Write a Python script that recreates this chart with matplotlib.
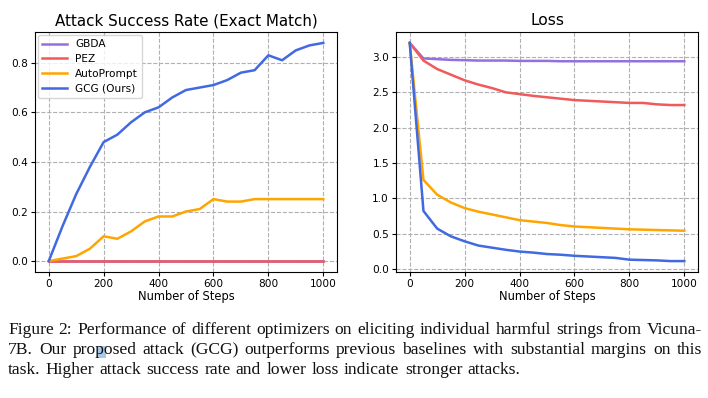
import matplotlib
matplotlib.use("Agg")
import matplotlib.pyplot as plt
import matplotlib.patches as mpatches

steps = list(range(0, 1001, 50))
methods = ["GBDA", "PEZ", "AutoPrompt", "GCG (Ours)"]

asr_gbda = [0.0] * 21
asr_pez = [0.0] * 21
asr_autoprompt = [0.00, 0.01, 0.02, 0.05, 0.10, 0.09, 0.12, 0.16, 0.18, 0.18, 0.20,
                  0.21, 0.25, 0.24, 0.24, 0.25, 0.25, 0.25, 0.25, 0.25, 0.25]
asr_gcg = [0.00, 0.14, 0.27, 0.38, 0.48, 0.51, 0.56, 0.60, 0.62, 0.66, 0.69,
           0.70, 0.71, 0.73, 0.76, 0.77, 0.83, 0.81, 0.85, 0.87, 0.88]

loss_gbda = [3.20, 2.98, 2.97, 2.96, 2.955, 2.95, 2.95, 2.95, 2.945, 2.945, 2.945,
             2.94, 2.94, 2.94, 2.94, 2.94, 2.94, 2.94, 2.94, 2.94, 2.94]
loss_pez = [3.20, 2.95, 2.83, 2.75, 2.67, 2.61, 2.56, 2.50, 2.475, 2.45, 2.43,
            2.41, 2.39, 2.38, 2.37, 2.36, 2.35, 2.35, 2.33, 2.32, 2.32]
loss_autoprompt = [3.20, 1.26, 1.05, 0.94, 0.86, 0.81, 0.77, 0.73, 0.69, 0.67, 0.65,
                   0.62, 0.60, 0.59, 0.58, 0.57, 0.56, 0.555, 0.55, 0.545, 0.54]
loss_gcg = [3.20, 0.82, 0.57, 0.46, 0.39, 0.33, 0.30, 0.27, 0.245, 0.23, 0.21,
            0.20, 0.185, 0.175, 0.165, 0.155, 0.13, 0.125, 0.12, 0.11, 0.11]

colors = ["#9370DB", "#F05A5A", "#FFA500", "#4169E1"]

caption_lines = [
    "Figure 2: Performance of different optimizers on eliciting individual harmful strings from Vicuna-",
    "7B. Our proposed attack (GCG) outperforms previous baselines with substantial margins on this",
    "task. Higher attack success rate and lower loss indicate stronger attacks.",
]

W, H = 708, 398
fig = plt.figure(figsize=(W/100, H/100), dpi=100, facecolor="white")
ax1 = fig.add_axes((35/W, 1 - 272/H, 302/W, 240/H))
ax2 = fig.add_axes((396/W, 1 - 272/H, 302/W, 240/H))

for vals, c, lab in zip([asr_gbda, asr_pez, asr_autoprompt, asr_gcg], colors, methods):
    ax1.plot(steps, vals, color=c, lw=1.8, label=lab)
for vals, c, lab in zip([loss_gbda, loss_pez, loss_autoprompt, loss_gcg], colors, methods):
    ax2.plot(steps, vals, color=c, lw=1.8, label=lab)

ax1.set_title("Attack Success Rate (Exact Match)", fontsize=10.9, pad=5)
ax2.set_title("Loss", fontsize=11.2, pad=5)
ax1.set_yticks([0.0, 0.2, 0.4, 0.6, 0.8])
ax2.set_yticks([0.0, 0.5, 1.0, 1.5, 2.0, 2.5, 3.0])
for ax in (ax1, ax2):
    ax.set_xticks([0, 200, 400, 600, 800, 1000])
    ax.set_xlabel("Number of Steps", fontsize=8.3, labelpad=1)
    ax.grid(True, ls="--", color="#b0b0b0", lw=0.8)
    ax.tick_params(labelsize=7.6, length=3, pad=2)
ax1.legend(loc="upper left", fontsize=7.6, handlelength=2.3, borderaxespad=0.3,
           labelspacing=0.45, framealpha=0.8)

# justified caption, word by word
renderer = fig.canvas.get_renderer()
x_left, x_right = 8, 702
baselines = [334, 354, 374]
fs = 12.6
for li, (line, yb) in enumerate(zip(caption_lines, baselines)):
    words = line.split(" ")
    texts = [fig.text(0, 1 - yb/H, w, fontsize=fs, family="Liberation Serif",
                      va="baseline", ha="left", color="#111111") for w in words]
    widths = [t.get_window_extent(renderer).width for t in texts]
    space = fs * 0.3 * 100 / 72
    if li < len(caption_lines) - 1:
        space = (x_right - x_left - sum(widths)) / (len(words) - 1)
    x = x_left
    for t, w in zip(texts, widths):
        t.set_x(x / W)
        x += w + space

# selection mark over "p" in "proposed"
fig.patches.append(mpatches.Rectangle((97/W, 1 - 358/H), 9/W, 12/H,
                                      transform=fig.transFigure, color="#6fa8dc",
                                      alpha=0.6, lw=0))

fig.savefig("out.png", dpi=100, facecolor="white")
